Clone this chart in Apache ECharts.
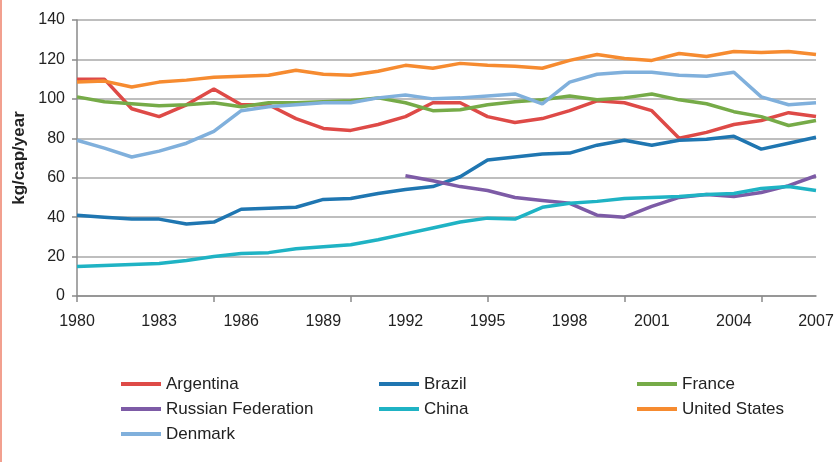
<!DOCTYPE html>
<html>
<head>
<meta charset="utf-8">
<script src="https://cdn.jsdelivr.net/npm/echarts@6/dist/echarts.min.js"></script>
<style>
  html, body { margin: 0; padding: 0; background: #fff; }
  #main { width: 836px; height: 462px; }
</style>
</head>
<body>
<div id="main"></div>
<script>
// years on the x axis
var years = [];
for (var y = 1980; y <= 2007; y++) years.push(String(y));

// kg/cap/year
var argentina = [110, 110, 95, 91, 97, 105, 97, 97, 90, 85, 84, 87, 91, 98, 98, 91, 88, 90, 94, 99, 98, 94, 80, 83, 87, 89, 93, 91];
var brazil = [41, 40, 39, 39, 36.5, 37.5, 44, 44.5, 45, 49, 49.5, 52, 54, 55.5, 60.5, 69, 70.5, 72, 72.5, 76.5, 79, 76.5, 79, 79.5, 81, 74.5, 77.5, 80.5];
var france = [101, 98.5, 97.5, 96.5, 97, 98, 96, 98, 98, 98.5, 99, 100.5, 98, 94, 94.5, 97, 98.5, 99.5, 101.5, 99.5, 100.5, 102.5, 99.5, 97.5, 93.5, 91, 86.5, 89];
var russia = [null, null, null, null, null, null, null, null, null, null, null, null, 61, 58.5, 55.5, 53.5, 50, 48.5, 47, 41, 40, 45.5, 50, 51.5, 50.5, 52.5, 56, 61];
var china = [15, 15.5, 16, 16.5, 18, 20, 21.5, 22, 24, 25, 26, 28.5, 31.5, 34.5, 37.5, 39.5, 39, 45, 47, 48, 49.5, 50, 50.5, 51.5, 52, 54.5, 55.5, 53.5];
var usa = [108.5, 109, 106, 108.5, 109.5, 111, 111.5, 112, 114.5, 112.5, 112, 114, 117, 115.5, 118, 117, 116.5, 115.5, 119.5, 122.5, 120.5, 119.5, 123, 121.5, 124, 123.5, 124, 122.5];
var denmark = [79, 75, 70.5, 73.5, 77.5, 83.5, 94, 96, 97, 98, 98, 100.5, 102, 100, 100.5, 101.5, 102.5, 97.5, 108.5, 112.5, 113.5, 113.5, 112, 111.5, 113.5, 101, 97, 98];

var seriesNames = ['Argentina', 'Brazil', 'France', 'Russian Federation', 'China', 'United States', 'Denmark'];
var seriesData = [argentina, brazil, france, russia, china, usa, denmark];
var seriesColors = ['#de4a47', '#1f76b1', '#76ab48', '#7d5ba6', '#1fb3c4', '#f68b30', '#80b0dc'];

var font = '"Liberation Sans", Arial, sans-serif';

var myChart = echarts.init(document.getElementById('main'), null, { renderer: 'canvas' });

var legendBase = {
    orient: 'vertical',
    top: 369,
    icon: 'rect',
    itemWidth: 40,
    itemHeight: 4,
    itemGap: 5,
    itemTextGap: 2,
    selectedMode: false,
    textStyle: { fontFamily: font, fontSize: 17, color: '#222', lineHeight: 20 }
};

option = {
    backgroundColor: '#fff',
    animation: false,
    graphic: [{
        type: 'rect',
        left: 0, top: 0,
        shape: { x: 0, y: 0, width: 2, height: 462 },
        style: { fill: '#f2a08f' }
    }],
    grid: { left: 77, right: 20, top: 20, bottom: 166, outerBoundsMode: 'none' },
    legend: [
        Object.assign({}, legendBase, { left: 116, data: ['Argentina', 'Russian Federation', 'Denmark'] }),
        Object.assign({}, legendBase, { left: 374, data: ['Brazil', 'China'] }),
        Object.assign({}, legendBase, { left: 632, data: ['France', 'United States'] })
    ],
    xAxis: {
        type: 'category',
        data: years,
        boundaryGap: false,
        axisLine: { lineStyle: { color: '#8a8a8a', width: 1.5 } },
        axisTick: { interval: 4, length: 6, lineStyle: { color: '#8a8a8a', width: 1.5 } },
        axisLabel: { interval: 2, margin: 18, fontFamily: font, fontSize: 16, color: '#222' },
        splitLine: { show: false }
    },
    yAxis: {
        type: 'value',
        min: 0,
        max: 140,
        interval: 20,
        name: 'kg/cap/year',
        nameLocation: 'middle',
        nameGap: 49,
        nameTextStyle: { fontFamily: font, fontSize: 17, fontWeight: 'bold', color: '#222' },
        axisLine: { show: true, lineStyle: { color: '#8a8a8a', width: 1.5 } },
        axisTick: { show: true, length: 5, lineStyle: { color: '#8a8a8a', width: 1.5 } },
        axisLabel: { margin: 12, fontFamily: font, fontSize: 16, color: '#222' },
        splitLine: { lineStyle: { color: '#a8a8a8', width: 1.5 } }
    },
    series: seriesNames.map(function (name, i) {
        return {
            name: name,
            type: 'line',
            data: seriesData[i],
            symbol: 'none',
            connectNulls: false,
            color: seriesColors[i],
            lineStyle: { width: 3.5, color: seriesColors[i] }
        };
    })
};

myChart.setOption(option);
</script>
</body>
</html>
